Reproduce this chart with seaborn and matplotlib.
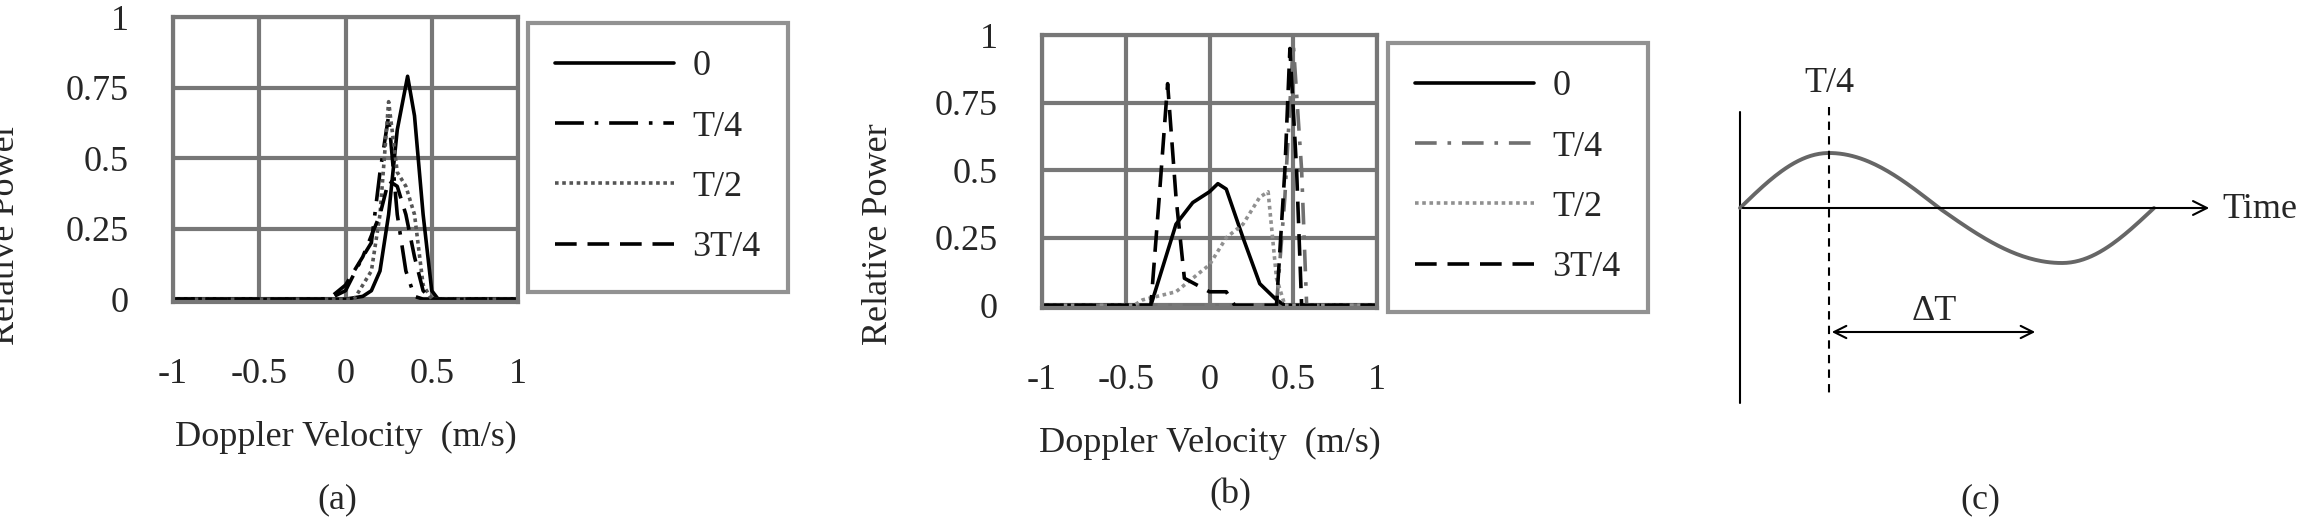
import numpy as np
import pandas as pd
import matplotlib
matplotlib.use("Agg")
import matplotlib.pyplot as plt
import seaborn as sns

sns.set_theme(style="white")
plt.rcParams["font.family"] = "Liberation Serif"

SERIES = ["0", "T/4", "T/2", "3T/4"]

# panel (a) curves
a_x_0 = [-1, 0.0, 0.1, 0.15, 0.2, 0.25, 0.3, 0.36, 0.4, 0.45, 0.5, 0.55, 0.6, 1]
a_y_0 = [0, 0, 0.01, 0.03, 0.1, 0.3, 0.6, 0.79, 0.65, 0.3, 0.03, -0.01, 0, 0]
a_x_t4 = [-1, -0.1, 0.0, 0.1, 0.15, 0.2, 0.25, 0.3, 0.35, 0.4, 0.45, 1]
a_y_t4 = [0, 0, 0.03, 0.15, 0.2, 0.45, 0.65, 0.3, 0.1, 0.01, 0, 0]
a_x_t2 = [-1, 0.05, 0.15, 0.2, 0.25, 0.3, 0.35, 0.4, 0.45, 0.5, 1]
a_y_t2 = [0, 0, 0.1, 0.3, 0.7, 0.45, 0.4, 0.3, 0.05, 0, 0]
a_x_3t4 = [-1, -0.1, 0.0, 0.1, 0.2, 0.25, 0.3, 0.35, 0.4, 0.45, 0.5, 1]
a_y_3t4 = [0, 0, 0.05, 0.15, 0.3, 0.42, 0.4, 0.3, 0.15, 0.03, 0, 0]

# panel (b) curves
b_x_0 = [-1, -0.35, -0.3, -0.2, -0.1, 0.0, 0.05, 0.1, 0.2, 0.3, 0.4, 0.45, 1]
b_y_0 = [0, 0, 0.1, 0.3, 0.38, 0.42, 0.45, 0.43, 0.25, 0.08, 0.02, 0, 0]
b_x_t4 = [-1, 0.4, 0.45, 0.5, 0.55, 0.58, 1]
b_y_t4 = [0, 0, 0.4, 0.97, 0.5, 0, 0]
b_x_t2 = [-1, -0.45, -0.4, -0.2, 0.0, 0.1, 0.2, 0.3, 0.35, 0.4, 0.45, 1]
b_y_t2 = [0, 0, 0.02, 0.05, 0.15, 0.25, 0.3, 0.4, 0.42, 0.1, 0, 0]
b_x_3t4 = [-1, -0.35, -0.3, -0.25, -0.2, -0.15, 0.0, 0.1, 0.15, 0.4, 0.45, 0.48, 0.52, 0.55, 1]
b_y_3t4 = [0, 0, 0.4, 0.82, 0.4, 0.1, 0.05, 0.05, 0, 0, 0.5, 0.95, 0.5, 0, 0]

X_TICKS = [-1, -0.5, 0, 0.5, 1]
X_TICKLABELS = ["-1", "-0.5", "0", "0.5", "1"]
Y_TICKS = [0, 0.25, 0.5, 0.75, 1]
Y_TICKLABELS = ["0", "0.25", "0.5", "0.75", "1"]

# panel (c) schematic: phase knots (deg) of the wave and where they sit in time (pixels)
WAVE_PHASE = [0, 90, 180, 270, 360]
WAVE_X = [1740, 1829, 1939, 2062, 2154]

STYLES = {"0": dict(color="black", ls="-"),
          "T/4": dict(color="black", ls=(0, (8, 3, 1, 3))),
          "T/2": dict(color="#555555", ls=(0, (1, 1))),
          "3T/4": dict(color="black", ls=(0, (6, 3)))}
STYLES_B = dict(STYLES)
STYLES_B["T/4"] = dict(color="#707070", ls=(0, (6, 3, 1, 3)))
STYLES_B["T/2"] = dict(color="#909090", ls=(0, (1, 1)))

W, H = 2307, 520
FS = 26
fig = plt.figure(figsize=(W / 100, H / 100), dpi=100)


def rect(x0, y0, x1, y1):
    return [x0 / W, 1 - y1 / H, (x1 - x0) / W, (y1 - y0) / H]


def spectrum(ax, curves, styles, leg_box, ylabel_x):
    for s, (x, y) in zip(SERIES, curves):
        d = pd.DataFrame({"v": x, "p": y})
        sns.lineplot(data=d, x="v", y="p", ax=ax, lw=2.6, label=s, estimator=None, **styles[s])
    ax.set_xlim(-1, 1)
    ax.set_ylim(-0.01, 1.0)
    ax.set_xticks(X_TICKS)
    ax.set_xticklabels(X_TICKLABELS)
    ax.set_yticks(Y_TICKS)
    ax.set_yticklabels(Y_TICKLABELS)
    ax.tick_params(axis="x", pad=40, labelsize=FS, length=0)
    ax.tick_params(axis="y", pad=32, labelsize=FS, length=0)
    ax.grid(True, color="#777777", lw=3)
    for sp in ax.spines.values():
        sp.set_color("#777777")
        sp.set_linewidth(3)
    ax.set_xlabel("Doppler Velocity  (m/s)", fontsize=FS, labelpad=22)
    ax.set_ylabel("Relative Power", fontsize=FS)
    ax.yaxis.set_label_coords(ylabel_x / W, 0.55, transform=fig.transFigure)
    leg = ax.legend(loc="upper left", bbox_to_anchor=(leg_box[0] / W, 1 - leg_box[1] / H),
                    bbox_transform=fig.transFigure, fontsize=FS, handlelength=3.3,
                    labelspacing=0.75, borderpad=0.75, handletextpad=0.5,
                    fancybox=False, frameon=True, borderaxespad=0)
    leg.get_frame().set_edgecolor("#777777")
    leg.get_frame().set_linewidth(3)


ax_a = fig.add_axes(rect(173, 17, 518, 302))
spectrum(ax_a, [(a_x_0, a_y_0), (a_x_t4, a_y_t4), (a_x_t2, a_y_t2), (a_x_3t4, a_y_3t4)],
         STYLES, (528, 23), 22)
fig.text(337 / W, 1 - 500 / H, "(a)", fontsize=FS, ha="center", va="center")

ax_b = fig.add_axes(rect(1042, 35, 1377, 308))
spectrum(ax_b, [(b_x_0, b_y_0), (b_x_t4, b_y_t4), (b_x_t2, b_y_t2), (b_x_3t4, b_y_3t4)],
         STYLES_B, (1388, 43), 895)
fig.text(1230 / W, 1 - 495 / H, "(b)", fontsize=FS, ha="center", va="center")

# panel (c): schematic in pixel coordinates
ax_c = fig.add_axes([0, 0, 1, 1], facecolor="none")
ax_c.set_xlim(0, W)
ax_c.set_ylim(H, 0)
ax_c.axis("off")
ax_c.plot([1740, 1740], [112, 403], color="black", lw=1.5)
ax_c.annotate("", xy=(2212, 208), xytext=(1740, 208),
              arrowprops=dict(arrowstyle="->", lw=1.5, color="black", mutation_scale=25))
ax_c.text(2222, 210, "Time", fontsize=FS, va="center", ha="left")
sx = np.linspace(WAVE_X[0], WAVE_X[-1], 200)
sy = 208 - 55 * np.sin(np.deg2rad(np.interp(sx, WAVE_X, WAVE_PHASE)))
ax_c.plot(sx, sy, color="#666666", lw=2.8)
ax_c.plot([1829, 1829], [107, 397], color="black", lw=1.5, ls=(0, (4, 3)))
ax_c.text(1829, 83, "T/4", fontsize=FS, ha="center", va="center")
ax_c.annotate("", xy=(2038, 332), xytext=(1829, 332),
              arrowprops=dict(arrowstyle="<->", lw=1.5, color="black", mutation_scale=22))
ax_c.text(1934, 312, "ΔT", fontsize=FS, ha="center", va="center")
ax_c.text(1980, 500, "(c)", fontsize=FS, ha="center", va="center")

fig.savefig("out.png", dpi=100)
